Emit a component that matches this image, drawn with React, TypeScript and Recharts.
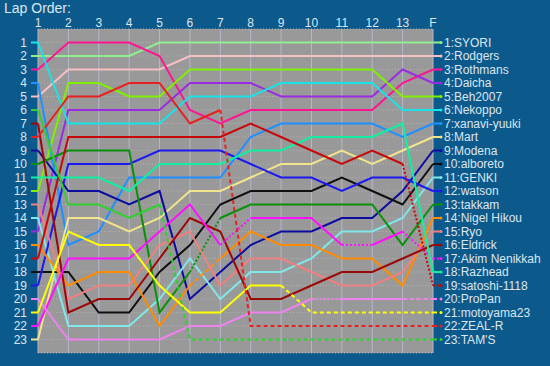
import React from 'react';
import { LineChart, Line, XAxis, YAxis, CartesianGrid } from 'recharts';

// lap columns, last one is the finish
const laps = ['1', '2', '3', '4', '5', '6', '7', '8', '9', '10', '11', '12', '13', 'F'];

// drivers in finishing order
const names = [
  'SYORI', 'Rodgers', 'Rothmans', 'Daicha', 'Beh2007', 'Nekoppo', 'xanavi-yuuki', 'Mart',
  'Modena', 'alboreto', 'GENKI', 'watson', 'takkam', 'Nigel Hikou', 'Ryo', 'Eldrick',
  'Akim Nenikkah', 'Razhead', 'satoshi-1118', 'ProPan', 'motoyama23', 'ZEAL-R', "TAM'S",
];

// running position of each driver after every lap
const syori = [2, 2, 2, 2, 1, 1, 1, 1, 1, 1, 1, 1, 1, 1];
const rodgers = [5, 3, 3, 3, 3, 2, 2, 2, 2, 2, 2, 2, 2, 2];
const rothmans = [3, 1, 1, 1, 2, 6, 7, 6, 6, 6, 6, 6, 4, 3];
const daicha = [15, 6, 6, 6, 6, 4, 4, 4, 5, 5, 5, 5, 3, 4];
const beh2007 = [12, 4, 4, 5, 5, 3, 3, 3, 3, 3, 3, 3, 5, 5];
const nekoppo = [1, 7, 7, 7, 7, 5, 5, 5, 4, 4, 4, 4, 6, 6];
const xanavi = [4, 16, 15, 11, 11, 11, 11, 8, 7, 7, 7, 7, 8, 7];
const mart = [23, 14, 14, 15, 14, 12, 12, 11, 10, 10, 9, 10, 9, 8];
const modena = [9, 12, 12, 13, 12, 20, 18, 16, 15, 15, 14, 14, 12, 9];
const alboreto = [18, 18, 21, 21, 18, 16, 13, 12, 12, 12, 11, 12, 13, 10];
const genki = [14, 22, 22, 22, 20, 17, 20, 18, 18, 17, 15, 15, 14, 11];
const watson = [19, 10, 10, 10, 9, 9, 9, 10, 11, 11, 12, 11, 11, 12];
const takkam = [10, 9, 9, 9, 21, 18, 14, 13, 13, 13, 13, 13, 16, 13];
const nigel = [16, 19, 18, 18, 22, 19, 17, 15, 16, 16, 17, 17, 19, 14];
const ryo = [13, 20, 19, 19, 16, 15, 19, 17, 17, 18, 19, 19, 18, 15];
const eldrick = [7, 21, 20, 20, 17, 14, 15, 20, 20, 19, 18, 18, 17, 16];
const akim = [22, 17, 17, 17, 15, 13, 16, 14, 14, 14, 16, 16, 15, 17];
const razhead = [11, 11, 11, 12, 10, 10, 10, 9, 9, 8, 8, 8, 7, 18];
const satoshi = [17, 8, 8, 8, 8, 8, 8, 7, 8, 9, 10, 9, 10, 19];
const propan = [20, 23, 23, 23, 23, 22, 22, 21, 21, 20, 20, 20, 20, 20];
const motoyama = [21, 15, 16, 16, 19, 21, 21, 19, 19, 21, 21, 21, 21, 21];
const zealr = [8, 5, 5, 4, 4, 7, 6, 22, 22, 22, 22, 22, 22, 22];
const tams = [6, 13, 13, 14, 13, 23, 23, 23, 23, 23, 23, 23, 23, 23];

const orders = [
  syori, rodgers, rothmans, daicha, beh2007, nekoppo, xanavi, mart, modena, alboreto, genki, watson,
  takkam, nigel, ryo, eldrick, akim, razhead, satoshi, propan, motoyama, zealr, tams,
];

const colors = [
  '#90ee90', '#f6c0c4', '#ff1493', '#9a2be2', '#80f000', '#18e4e8', '#1e90ff', '#f2e48c',
  '#0c0ca0', '#101010', '#80e8e8', '#1a1af0', '#0a900a', '#ff8c00', '#f08080', '#9a0808',
  '#ff10ff', '#10f0a0', '#c80808', '#ee82ee', '#ffff00', '#e82020', '#30d030',
];

// line style of each lap-to-lap segment: - solid, d dashed, o dotted
const patterns = [
  '-------------', '-------------', '-------------', '-------------', '-------------',
  '-------------', '-------------', '-------------', '-------------', '-------------',
  '-------------', '-------------', '-----o-------', '-----d-------', '-------------',
  '-------------', '------o---o-o', '-------------', '------------o', '---------o--d',
  '--------ddddd', '------ddddddd', '----ddddddddd',
];

const dashOf = (c: string) => (c === 'd' ? '4 3' : c === 'o' ? '2 2' : undefined);

// split every driver into runs of equal line style
const runs: { key: string; driver: number; from: number; to: number; style: string }[] = [];
orders.forEach((pos, i) => {
  const pat = patterns[i];
  let start = 0;
  for (let s = 1; s <= pat.length; s++) {
    if (s === pat.length || pat[s] !== pat[start]) {
      runs.push({ key: `r${i}_${start}`, driver: i, from: start, to: s, style: pat[start] });
      start = s;
    }
  }
});

const data = laps.map((lap, li) => {
  const row: any = { lap };
  runs.forEach((r) => {
    if (li >= r.from && li <= r.to) row[r.key] = orders[r.driver][li];
  });
  return row;
});

const positions = names.map((_, i) => i + 1);
const textColor = '#dce6f0';
const font = '"Liberation Sans", Arial, sans-serif';

const TopTick = (props: any) => {
  const { x, y, payload } = props;
  return (
    <text x={x} y={y} textAnchor="middle" fill={textColor} fontSize={12} fontFamily={font}>
      {payload.value}
    </text>
  );
};

const LeftTick = (props: any) => {
  const { x, y, payload } = props;
  const idx = orders.findIndex((o) => o[0] === payload.value);
  return (
    <g>
      <line x1={x - 7} x2={x} y1={y} y2={y} stroke={colors[idx]} strokeWidth={2} />
      <text x={x - 11} y={y} dy="0.35em" textAnchor="end" fill={textColor} fontSize={12} fontFamily={font}>
        {payload.value}
      </text>
    </g>
  );
};

const RightTick = (props: any) => {
  const { x, y, payload } = props;
  const idx = payload.value - 1;
  const pat = patterns[idx];
  return (
    <g>
      <line x1={x} x2={x + 8} y1={y} y2={y} stroke={colors[idx]} strokeWidth={2} strokeDasharray={dashOf(pat[pat.length - 1])} />
      <circle cx={x + 8} cy={y} r={1.5} fill={colors[idx]} />
      <text x={x + 11} y={y} dy="0.35em" fill={textColor} fontSize={12} fontFamily={font}>
        {`${payload.value}:${names[idx]}`}
      </text>
    </g>
  );
};

export default function App() {
  return (
    <div style={{ position: 'fixed', left: 0, top: 0, width: 550, height: 366, background: '#0c5a8c' }}>
      <div style={{ position: 'absolute', left: 4, top: 0, color: textColor, fontFamily: font, fontSize: 14 }}>
        Lap Order:
      </div>
      <LineChart width={550} height={366} data={data} margin={{ top: 0, left: 0, right: 0, bottom: 13 }}>
        <CartesianGrid yAxisId="l" vertical={false} stroke="#b2b2b2" strokeDasharray="1 2" fill="#999999" />
        <CartesianGrid yAxisId="l" horizontal={false} stroke="#b6b6cc" />
        <XAxis
          dataKey="lap"
          orientation="top"
          height={29}
          axisLine={false}
          tickLine={false}
          tickSize={0}
          tickMargin={2}
          interval={0}
          tick={<TopTick />}
        />
        <YAxis
          yAxisId="l"
          type="number"
          domain={[0, 24]}
          reversed
          ticks={positions}
          interval={0}
          width={38}
          axisLine={false}
          tickLine={false}
          tickSize={0}
          tickMargin={0}
          tick={<LeftTick />}
        />
        <YAxis
          yAxisId="r"
          orientation="right"
          type="number"
          domain={[0, 24]}
          reversed
          ticks={positions}
          interval={0}
          width={117}
          axisLine={false}
          tickLine={false}
          tickSize={0}
          tickMargin={0}
          tick={<RightTick />}
        />
        {runs.map((r) => (
          <Line
            key={r.key}
            yAxisId={r.driver % 2 === 0 ? 'l' : 'r'}
            dataKey={r.key}
            type="linear"
            stroke={colors[r.driver]}
            strokeWidth={2}
            strokeDasharray={dashOf(r.style)}
            dot={false}
            activeDot={false}
            connectNulls={false}
            isAnimationActive={false}
          />
        ))}
      </LineChart>
    </div>
  );
}
